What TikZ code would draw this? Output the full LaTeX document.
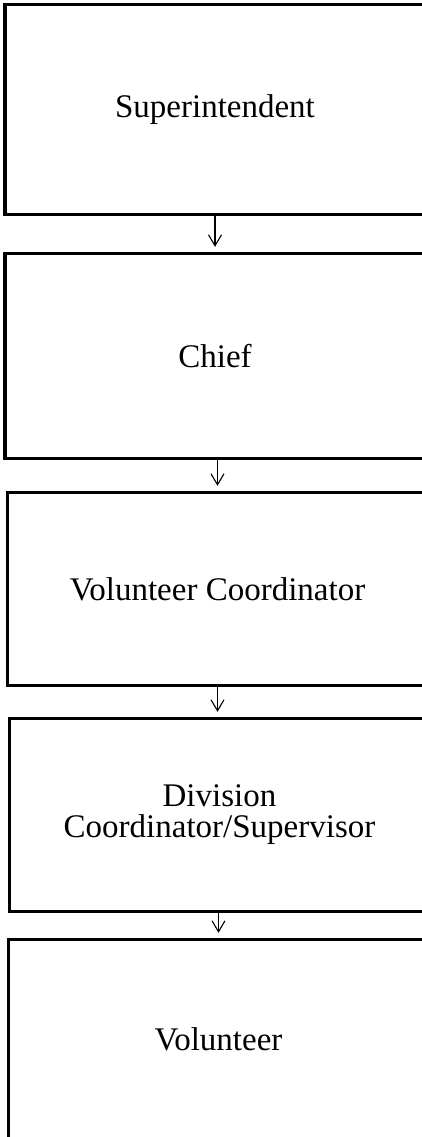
\documentclass[tikz,border=0pt]{standalone}
\usepackage{fontspec}
\setmainfont{Liberation Serif}
\usetikzlibrary{arrows.meta}
\tikzset{
    orgbox/.style = {draw, line width = 3.3pt, minimum width = 420pt, align = center, inner sep = 0pt},
    flow/.style = {-{Straight Barb[length=11pt,width=13pt]}, line width = 1.1pt, shorten > = 5pt}
}
\begin{document}
\begin{tikzpicture}[x = 1pt, y = -1pt, node font = \fontsize{33}{31}\selectfont]
        \useasboundingbox (0,0) rectangle (422,1137);
        \clip (0,0) rectangle (422,1137);
        \node [orgbox, minimum height = 210pt] (super) at (215,109.5) {Superintendent};
        \node [orgbox, minimum height = 205pt] (chief) at (215,356) {Chief};
        \node [orgbox, minimum height = 193pt] (volcoord) at (217.5,589) {Volunteer Coordinator};
        \node [orgbox, minimum height = 193pt] (divcoord) at (219.5,815) {Division\\Coordinator/Supervisor};
        \node [orgbox, minimum height = 200pt] (volunteer) at (218.5,1039.5) {Volunteer};
        \draw [flow] (super.south) -- (chief.north);
        \draw [flow] (chief.south -| volcoord.north) -- (volcoord.north);
        \draw [flow] (volcoord.south) -- (volcoord.south |- divcoord.north);
        \draw [flow] (divcoord.south -| volunteer.north) -- (volunteer.north);
    \end{tikzpicture}
\end{document}
